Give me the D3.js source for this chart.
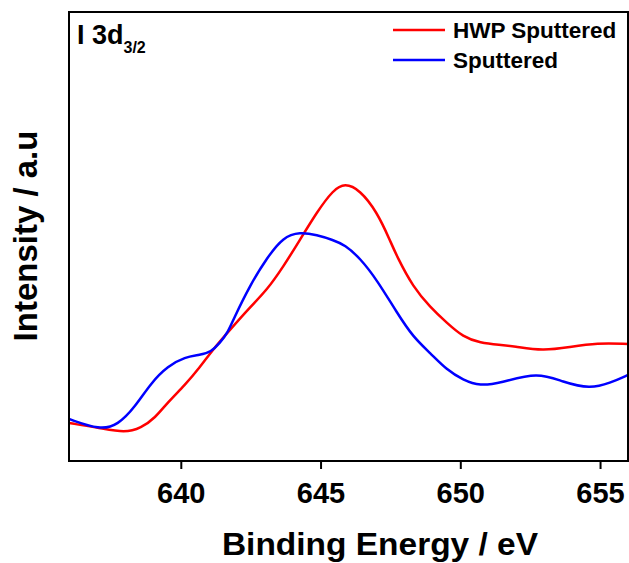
<!DOCTYPE html>
<html>
<head>
<meta charset="utf-8">
<script src="https://cdn.jsdelivr.net/npm/d3@7"></script>
<style>
  body { margin: 0; background: #fff; }
  text { font-family: "Liberation Sans", Arial, sans-serif; font-weight: bold; fill: #000; }
</style>
</head>
<body>
<div id="chart"></div>
<script>
// binding energy (eV) and intensity (a.u.)
var hwpEnergy = [636.0, 637.11, 638.0, 638.58, 639.08, 639.54, 640.15, 640.69, 641.08, 641.69,
    642.48, 643.08, 643.66, 644.26, 644.87, 645.45, 645.87, 646.41, 647.02, 647.48,
    647.74, 648.31, 648.92, 649.52, 650.10, 650.71, 651.42, 651.89, 652.96, 653.92,
    654.89, 656.0];
var hwpIntensity = [38, 33, 28, 33, 43, 59, 76, 94, 109, 129,
    154, 171, 194, 221, 249, 271, 278, 271, 249, 221,
    204, 174, 154, 138, 124, 118, 116, 115, 110, 114,
    118, 117];

var sputEnergy = [636.0, 637.11, 637.75, 638.36, 638.93, 639.54, 640.15, 640.69, 641.08, 641.40,
    641.69, 641.87, 642.48, 643.08, 643.66, 644.26, 644.87, 645.45, 645.87, 646.41,
    647.02, 647.74, 648.31, 648.92, 649.52, 650.10, 650.71, 651.42, 652.78, 653.67,
    654.64, 655.36, 656.0];
var sputIntensity = [42, 31, 36, 54, 78, 95, 104, 106, 109, 118,
    129, 141, 176, 203, 224, 229, 226, 221, 216, 203,
    181, 148, 124, 108, 91, 81, 75, 78, 89, 79,
    72, 78, 86];

var xTicks = [640, 645, 650, 655];
var seriesNames = ["HWP Sputtered", "Sputtered"];
var seriesColors = ["#ff0000", "#0000ff"];

var margin = { top: 12, right: 1, bottom: 102, left: 69 },
    W = 629, H = 563,
    width = W - margin.left - margin.right,
    height = H - margin.top - margin.bottom;

var svg = d3.select("#chart")
    .append("svg")
    .attr("width", W)
    .attr("height", H);

var g = svg.append("g")
    .attr("transform", "translate(" + margin.left + "," + margin.top + ")");

var x = d3.scaleLinear().domain([636, 656]).range([0, width]);
var y = d3.scaleLinear().domain([0, 449]).range([height, 0]);

var series = [
    hwpEnergy.map(function (e, i) { return [e, hwpIntensity[i]]; }),
    sputEnergy.map(function (e, i) { return [e, sputIntensity[i]]; })
];

var line = d3.line()
    .x(function (d) { return x(d[0]); })
    .y(function (d) { return y(d[1]); })
    .curve(d3.curveBasis);

g.append("defs").append("clipPath").attr("id", "clip")
    .append("rect").attr("width", width).attr("height", height);

g.append("g").attr("clip-path", "url(#clip)")
    .selectAll("path")
    .data(series)
    .enter()
    .append("path")
    .attr("d", line)
    .attr("fill", "none")
    .attr("stroke", function (d, i) { return seriesColors[i]; })
    .attr("stroke-width", 2.5);

// x axis
var xAxis = g.append("g")
    .attr("transform", "translate(0," + height + ")")
    .call(d3.axisBottom(x).tickValues(xTicks).tickSize(8).tickPadding(13));
xAxis.select(".domain").remove();
xAxis.selectAll("line").attr("stroke", "#000").attr("stroke-width", 2);
xAxis.selectAll("text")
    .style("font-size", "29px")
    .style("font-family", "'Liberation Sans', Arial, sans-serif")
    .style("font-weight", "bold");

// frame
g.append("rect")
    .attr("width", width)
    .attr("height", height)
    .attr("fill", "none")
    .attr("stroke", "#000")
    .attr("stroke-width", 2);

// axis titles
svg.append("text")
    .attr("transform", "translate(380,555) scale(1.08,1)")
    .attr("text-anchor", "middle")
    .style("font-size", "31px")
    .text("Binding Energy / eV");

svg.append("text")
    .attr("transform", "translate(37,236) rotate(-90)")
    .attr("text-anchor", "middle")
    .style("font-size", "33px")
    .text("Intensity / a.u");

// panel label
var lab = svg.append("text")
    .attr("x", 77)
    .attr("y", 44)
    .style("font-size", "27px");
lab.append("tspan").text("I 3d");
lab.append("tspan").attr("dy", 9).style("font-size", "16px").text("3/2");

// legend
var leg = svg.append("g").selectAll("g")
    .data(seriesNames)
    .enter()
    .append("g")
    .attr("transform", function (d, i) { return "translate(393," + (30 + i * 30) + ")"; });
leg.append("line")
    .attr("x1", 0).attr("x2", 52)
    .attr("stroke", function (d, i) { return seriesColors[i]; })
    .attr("stroke-width", 2.5);
leg.append("text")
    .attr("x", 60)
    .attr("dy", "0.36em")
    .style("font-size", "22.5px")
    .text(function (d) { return d; });
</script>
</body>
</html>
